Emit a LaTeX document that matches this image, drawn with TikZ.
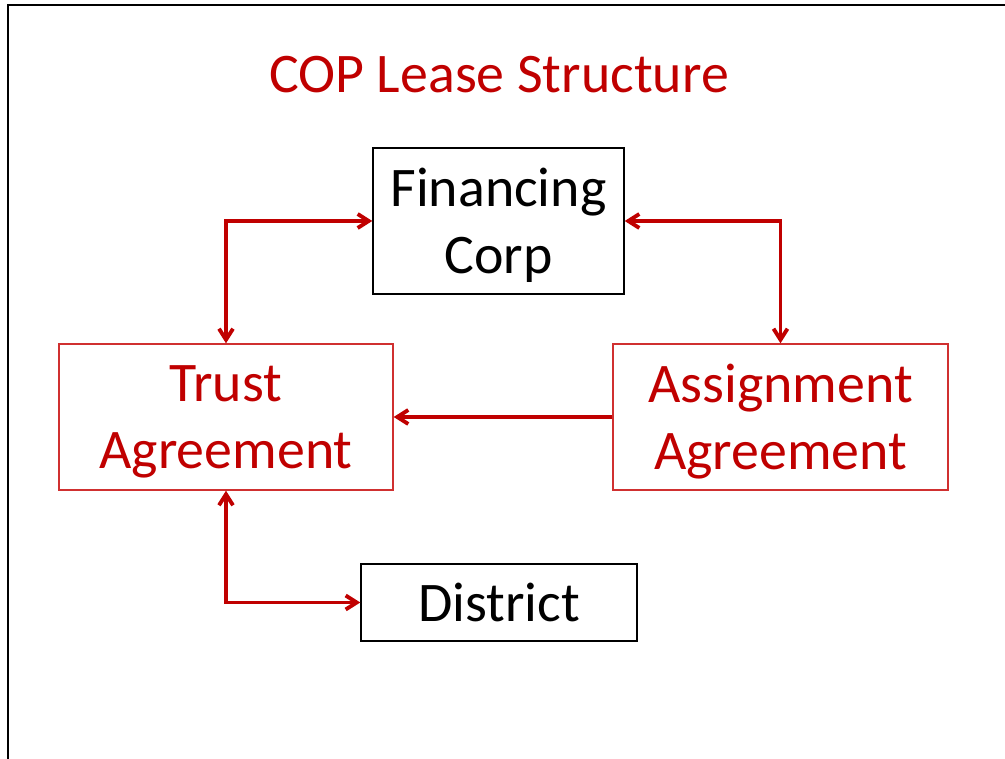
\documentclass[tikz,border=0pt]{standalone}
\usepackage{fontspec}
\setmainfont{Carlito}
\usepackage{tikz}
\usetikzlibrary{arrows.meta,positioning}
\definecolor{leasered}{HTML}{C00000}
\definecolor{boxred}{HTML}{D03030}

\begin{document}
\begin{tikzpicture}[x=0.02cm,y=-0.02cm,
    >={Straight Barb[length=0.22cm,width=0.28cm]},
    every node/.style={font=\fontsize{31.8}{38}\selectfont,align=center,inner sep=0pt},
    corpbox/.style={draw=black,line width=0.85pt,fill=white,text depth=0pt},
    dealbox/.style={draw=boxred,line width=0.8pt,fill=white,text=leasered,text depth=0pt},
    link/.style={leasered,line width=2.2pt}]
  \useasboundingbox (0,0) rectangle (1005,759);
  % slide frame
  \draw[line width=1.1pt] (8,759) -- (8,5) -- (1005,5);

  \node[anchor=base,text=leasered] (title) at (499,93) {COP Lease Structure};

  \node[corpbox,minimum width=5.02cm,minimum height=2.92cm] (fincorp) at (498.5,221)
       {Financing\\Corp};
  \node[dealbox,minimum width=6.68cm,minimum height=2.92cm] (trust) at (226,417)
       {Trust\\Agreement};
  \node[dealbox,minimum width=6.70cm,minimum height=2.92cm] (assign) at (780.5,417)
       {Assignment\\Agreement};
  \node[corpbox,minimum width=5.52cm,minimum height=1.54cm] (district) at (499,602.5)
       {District};

  \draw[link,<->] (trust.north) |- (fincorp.west);
  \draw[link,<->] (fincorp.east) -| (assign.north);
  \draw[link,->] (assign.west) -- (trust.east);
  \draw[link,<->] (trust.south) |- (district.west);
\end{tikzpicture}
\end{document}
